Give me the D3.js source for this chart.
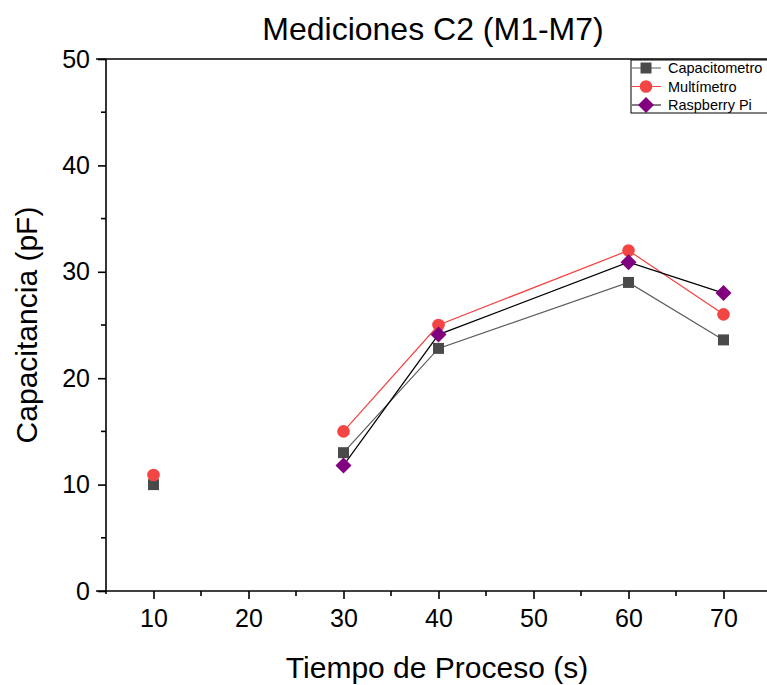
<!DOCTYPE html>
<html lang="es">
<head>
<meta charset="UTF-8">
<title>Mediciones C2</title>
<script src="https://d3js.org/d3.v7.min.js"></script>
<style>
  body { margin: 0; background: #fff; }
  text { font-family: "Liberation Sans", Arial, sans-serif; }
  .tick text { font-family: "Liberation Sans Narrow", "Arial Narrow", "Liberation Sans", sans-serif; }
</style>
</head>
<body>
<script>
// datos
var tiempos = [10, 20, 30, 40, 60, 70];
var capacitometro = [10.0, null, 13.0, 22.8, 29.0, 23.6];
var multimetro = [10.9, null, 15.0, 25.0, 32.0, 26.0];
var raspberry = [null, null, 11.8, 24.1, 30.9, 28.0];
var nombres = ["Capacitometro", "Multímetro", "Raspberry Pi"];
var xTicks = [10, 20, 30, 40, 50, 60, 70];
var yTicks = [0, 10, 20, 30, 40, 50];

var width = 767, height = 685;
var mLeft = 106, mTop = 59, mBottom = 591, mRight = 771;

var svg = d3.select("body").append("svg")
    .attr("width", width)
    .attr("height", height);

var x = d3.scaleLinear().domain([5, 75]).range([mLeft, mRight]);
var y = d3.scaleLinear().domain([0, 50]).range([mBottom, mTop]);

// rombo ancho (cuadrado girado), el de d3 es muy estrecho
var rombo = {
  draw: function(ctx, size) {
    var r = Math.sqrt(size / 2);
    ctx.moveTo(0, -r); ctx.lineTo(r, 0); ctx.lineTo(0, r); ctx.lineTo(-r, 0); ctx.closePath();
  }
};

var series = [
  {name: nombres[0], values: capacitometro, line: "#5a5a5a", fill: "#4a4a4a", shape: d3.symbolSquare, size: 121},
  {name: nombres[1], values: multimetro, line: "#f44040", fill: "#f44545", shape: d3.symbolCircle, size: 125},
  {name: nombres[2], values: raspberry, line: "#000000", fill: "#800080", shape: rombo, size: 128}
];

// ejes
var xAxis = d3.axisBottom(x).tickValues(xTicks).tickSize(8).tickPadding(10).tickSizeOuter(0);
var gx = svg.append("g").attr("transform", "translate(0," + mBottom + ")").call(xAxis);
gx.select(".domain").attr("d", "M" + (mLeft - 10) + ",0H" + width);
// minor x
gx.selectAll(".minor").data([15, 25, 35, 45, 55, 65, 75]).enter().append("line")
    .attr("class", "minor")
    .attr("x1", d => x(d)).attr("x2", d => x(d)).attr("y1", 0).attr("y2", 5);

var yAxis = d3.axisLeft(y).tickValues(yTicks).tickSize(8).tickPadding(8).tickSizeOuter(0);
var gy = svg.append("g").attr("transform", "translate(" + mLeft + ",0)").call(yAxis);
gy.select(".domain").attr("d", "M0," + (mBottom + 3) + "V" + mTop);
gy.selectAll(".minor").data([5, 15, 25, 35, 45]).enter().append("line")
    .attr("class", "minor")
    .attr("y1", d => y(d)).attr("y2", d => y(d)).attr("x1", 0).attr("x2", -5);

svg.selectAll(".tick text").style("font-size", "25px").attr("fill", "#000");
svg.selectAll(".domain, .tick line, .minor").attr("stroke", "#000").attr("stroke-width", 1.6);

// borde superior
svg.append("line")
    .attr("x1", mLeft - 10).attr("x2", width)
    .attr("y1", mTop).attr("y2", mTop)
    .attr("stroke", "#000").attr("stroke-width", 1.6);

// titulos
svg.append("text").attr("x", 433).attr("y", 40).attr("text-anchor", "middle")
    .style("font-size", "32px").text("Mediciones C2 (M1-M7)");
svg.append("text").attr("x", 437).attr("y", 678).attr("text-anchor", "middle")
    .style("font-size", "30px").text("Tiempo de Proceso (s)");
svg.append("text").attr("transform", "translate(37,325) rotate(-90)").attr("text-anchor", "middle")
    .style("font-size", "30px").text("Capacitancia (pF)");

// lineas y marcadores
var line = d3.line()
    .defined(d => d[1] != null)
    .x(d => x(d[0])).y(d => y(d[1]));

series.forEach(function(s) {
  var pts = tiempos.map((t, i) => [t, s.values[i]]);
  svg.append("path").datum(pts)
      .attr("d", line)
      .attr("fill", "none")
      .attr("stroke", s.line)
      .attr("stroke-width", 1.2);
});

series.forEach(function(s) {
  var pts = tiempos.map((t, i) => [t, s.values[i]]).filter(d => d[1] != null);
  svg.selectAll(null).data(pts).enter().append("path")
      .attr("transform", d => "translate(" + x(d[0]) + "," + y(d[1]) + ")")
      .attr("d", d3.symbol().type(s.shape).size(s.size))
      .attr("fill", s.fill);
});

// leyenda
var lg = svg.append("g").attr("transform", "translate(631,60)");
lg.append("rect").attr("x", 0).attr("y", 0).attr("width", 140).attr("height", 53)
    .attr("fill", "#fff").attr("stroke", "#000").attr("stroke-width", 1);
series.forEach(function(s, i) {
  var yy = 8 + i * 18.5;
  lg.append("line").attr("x1", 1).attr("x2", 30).attr("y1", yy).attr("y2", yy)
      .attr("stroke", s.line).attr("stroke-width", 1);
  lg.append("path").attr("transform", "translate(15," + yy + ")")
      .attr("d", d3.symbol().type(s.shape).size(s.size))
      .attr("fill", s.fill);
  lg.append("text").attr("x", 37).attr("y", yy + 5).style("font-size", "14.5px").text(s.name);
});
</script>
</body>
</html>
